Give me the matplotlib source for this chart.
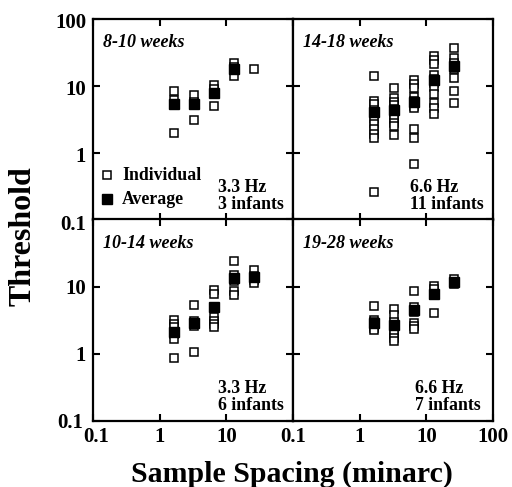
import matplotlib
matplotlib.use('Agg')
import matplotlib.pyplot as plt
import matplotlib.transforms as mtransforms
from matplotlib.ticker import FixedLocator, NullLocator

# sample spacing (minarc)
espaciado = [1.65, 3.3, 6.6, 13.2, 26.4]

# 8-10 weeks, 3.3 Hz, 3 infants
ind_a = [[8.2, 6.2, 1.95], [7.3, 5.8, 3.1], [10.2, 9.0, 4.9], [22, 19, 13.8], [17.7]]
avg_a = [5.4, 5.3, 7.7, 17.8]

# 14-18 weeks, 6.6 Hz, 11 infants
ind_b = [[14.1, 6.0, 5.3, 4.4, 3.8, 3.2, 2.7, 2.26, 1.94, 1.66, 0.26],
         [9.1, 6.5, 5.8, 5.1, 4.5, 4.0, 3.6, 3.2, 2.8, 2.5, 1.84],
         [12.2, 10.6, 9.2, 6.7, 6.0, 5.6, 5.0, 4.6, 2.3, 1.66, 0.68],
         [28, 24, 21, 14.5, 12.5, 11, 9.6, 7.5, 5.6, 4.7, 3.8],
         [37, 26, 22, 18, 13, 8.4, 5.6]]
avg_b = [4.1, 4.3, 5.7, 12.0, 19.5]

# 10-14 weeks, 3.3 Hz, 6 infants
ind_c = [[3.2, 2.8, 2.5, 2.0, 1.65, 0.87],
         [5.4, 3.1, 2.9, 2.75, 2.6, 1.08],
         [9.0, 7.8, 3.5, 3.1, 2.8, 2.5],
         [24, 15, 13, 12, 8.6, 7.6],
         [18, 14.5, 12.5, 11.2]]
avg_c = [2.15, 2.85, 5.0, 13.5, 13.8]

# 19-28 weeks, 6.6 Hz, 7 infants
ind_d = [[5.2, 3.2, 3.0, 2.8, 2.6, 2.4, 2.3],
         [4.6, 3.8, 3.0, 2.2, 1.95, 1.75, 1.55],
         [8.6, 4.9, 4.2, 2.9, 2.6, 2.35],
         [10.2, 9.2, 7.5, 4.1],
         [12.8, 11.5, 10.8]]
avg_d = [2.9, 2.7, 4.5, 7.9, 11.8]

titulos = ['8-10 weeks', '14-18 weeks', '10-14 weeks', '19-28 weeks']
notas = ['3.3 Hz\n3 infants', '6.6 Hz\n11 infants', '3.3 Hz\n6 infants', '6.6 Hz\n7 infants']
ticks = [0.1, 1, 10, 100]
tick_labels = ['0.1', '1', '10', '100']

serif = 'Liberation Serif'
plt.rcParams['font.family'] = serif

fig = plt.figure(figsize=(5.12, 4.87), dpi=100)

izq = [93 / 512, 293 / 512]
abajo = [1 - 220 / 487, 1 - 421 / 487]
ancho = 200 / 512
alto = 201.5 / 487

paneles = [(ind_a, avg_a), (ind_b, avg_b), (ind_c, avg_c), (ind_d, avg_d)]
nota_x = [0.625, 0.585, 0.625, 0.61]


def mover(dx, dy):
    return mtransforms.ScaledTranslation(dx / 100, dy / 100, fig.dpi_scale_trans)


for i, (ind, avg) in enumerate(paneles):
    fila, col = divmod(i, 2)
    ax = fig.add_axes([izq[col], abajo[fila], ancho, alto])
    ax.set_xscale('log')
    ax.set_yscale('log')
    ax.set_xlim(0.1, 100)
    ax.set_ylim(0.1, 100)

    for x, vals in zip(espaciado, ind):
        ax.plot([x] * len(vals), vals, 's', ms=5.6, mfc='white', mec='black',
                mew=1.1, zorder=2)
    ax.plot(espaciado[:len(avg)], avg, 's', ms=7.2, mfc='black', mec='black',
            zorder=3)

    ax.xaxis.set_major_locator(FixedLocator(ticks))
    ax.yaxis.set_major_locator(FixedLocator(ticks))
    ax.xaxis.set_minor_locator(NullLocator())
    ax.yaxis.set_minor_locator(NullLocator())
    ax.tick_params(which='major', direction='in', length=5, width=1.5,
                   top=True, right=True, labelsize=15, pad=4)
    ax.tick_params(axis='y', pad=5)

    if fila == 0:
        ax.set_xticklabels([])
    else:
        ax.set_xticklabels(tick_labels if col == 1 else tick_labels[:3] + [''])
    if col == 1:
        ax.set_yticklabels([])
    else:
        ax.set_yticklabels(tick_labels if fila == 0 else tick_labels[:3] + [''])
    for lab in ax.get_xticklabels() + ax.get_yticklabels():
        lab.set_fontweight('bold')

    ylabs = ax.get_yticklabels()
    if fila == 0 and col == 0:
        # etiquetas un poco por debajo de la marca, como en el original
        for lab in ylabs:
            lab.set_transform(lab.get_transform() + mover(0, -2))
    elif fila == 1 and col == 0:
        # esquina: separar los dos "0.1"
        ylabs[0].set_transform(ylabs[0].get_transform() + mover(-3, 1))
        xlabs = ax.get_xticklabels()
        xlabs[0].set_transform(xlabs[0].get_transform() + mover(3, 0))

    for s in ax.spines.values():
        s.set_linewidth(1.6)

    ax.text(0.05, 0.88, titulos[i], transform=ax.transAxes, fontsize=13,
            fontstyle='italic', fontweight='bold', va='center')
    ax.text(nota_x[i], 0.035, notas[i], transform=ax.transAxes, fontsize=12.8,
            fontweight='bold', va='bottom', ha='left', linespacing=1.0)

    if i == 0:
        ax.plot([0.07], [0.223], 's', ms=6, mfc='white', mec='black', mew=1.1,
                transform=ax.transAxes)
        ax.plot([0.07], [0.104], 's', ms=7.2, mfc='black', mec='black',
                transform=ax.transAxes)
        ax.text(0.145, 0.223, 'Individual', transform=ax.transAxes,
                fontsize=12.8, fontweight='bold', va='center')
        ax.text(0.145, 0.104, 'Average', transform=ax.transAxes,
                fontsize=12.8, fontweight='bold', va='center')

fig.text(0.045, 0.515, 'Threshold', rotation=90, fontsize=23,
         fontweight='bold', ha='center', va='center')
fig.text(0.571, 0.01, 'Sample Spacing (minarc)', fontsize=21.5,
         fontweight='bold', ha='center', va='baseline')

fig.savefig('out.png', dpi=100)
